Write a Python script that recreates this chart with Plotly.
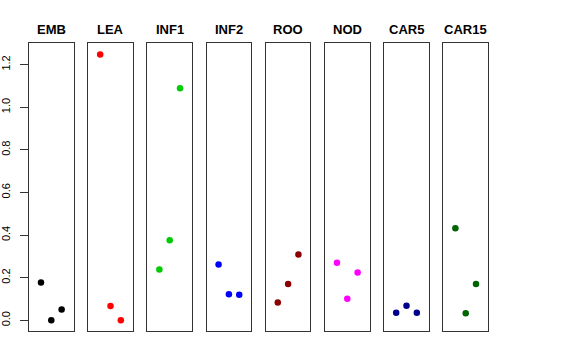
import plotly.graph_objects as go

W, H = 576, 360
categories = ["EMB", "LEA", "INF1", "INF2", "ROO", "NOD", "CAR5", "CAR15"]
colors = ["#000000", "#FF0000", "#00CD00", "#0000FF", "#8B0000", "#FF00FF", "#00008B", "#006400"]
x_pos = [1, 2, 3]
emb = [0.178, 0.0, 0.051]
lea = [1.248, 0.067, 0.0]
inf1 = [0.239, 0.376, 1.089]
inf2 = [0.262, 0.122, 0.120]
roo = [0.084, 0.171, 0.309]
nod = [0.270, 0.101, 0.225]
car5 = [0.036, 0.068, 0.036]
car15 = [0.432, 0.033, 0.170]
series = [emb, lea, inf1, inf2, roo, nod, car5, car15]
y_ticks = [0.0, 0.2, 0.4, 0.6, 0.8, 1.0, 1.2]
y_ticktext = ["0.0", "0.2", "0.4", "0.6", "0.8", "1.0", "1.2"]

# panel pixel geometry
left0 = 29.0
pw = 44.6
period = 59.2
top_px, bot_px = 43.3, 331.0

fig = go.Figure()
layout = {}
annotations = []
for i, (cat, col, vals) in enumerate(zip(categories, colors, series)):
    xa = "x" if i == 0 else f"x{i+1}"
    ya = "y" if i == 0 else f"y{i+1}"
    fig.add_trace(go.Scatter(x=x_pos, y=vals, mode="markers", xaxis=xa, yaxis=ya,
                             marker=dict(color=col, size=6.5), showlegend=False,
                             hoverinfo="y"))
    l = left0 + i * period
    r = l + pw
    key = "" if i == 0 else str(i + 1)
    layout["xaxis" + key] = dict(domain=[l / W, r / W], range=[-0.16, 4.16],
                                 showticklabels=False, ticks="", showgrid=False,
                                 zeroline=False, showline=True, mirror=True,
                                 linecolor="#333333", linewidth=1, anchor=ya,
                                 automargin=False)
    yd = dict(domain=[1 - bot_px / H, 1 - top_px / H], range=[-0.05, 1.30],
              showgrid=False, zeroline=False, showline=True, mirror=True,
              linecolor="#333333", linewidth=1, anchor=xa, automargin=False)
    if i == 0:
        yd.update(tickvals=y_ticks, ticktext=y_ticktext, ticks="outside", ticklen=8,
                  tickcolor="#333333", tickangle=-90,
                  tickfont=dict(family="Liberation Sans, Arial", size=11, color="#000"),
                  ticklabelstandoff=6)
    else:
        yd.update(showticklabels=False, ticks="")
    layout["yaxis" + key] = yd
    annotations.append(dict(text=f"<b>{cat}</b>", x=(l + r) / 2 / W, y=1 - 29.5 / H,
                            xref="paper", yref="paper", showarrow=False,
                            xanchor="center", yanchor="middle",
                            font=dict(family="Liberation Sans, Arial", size=13, color="#000")))

fig.update_layout(**layout)
fig.update_layout(width=W, height=H, margin=dict(l=0, r=0, t=0, b=0, autoexpand=False),
                  paper_bgcolor="white", plot_bgcolor="white",
                  annotations=annotations)
fig.write_html("out.html", config={"displayModeBar": False},
               post_script="document.body.style.margin='0px';document.body.style.padding='0px';")
